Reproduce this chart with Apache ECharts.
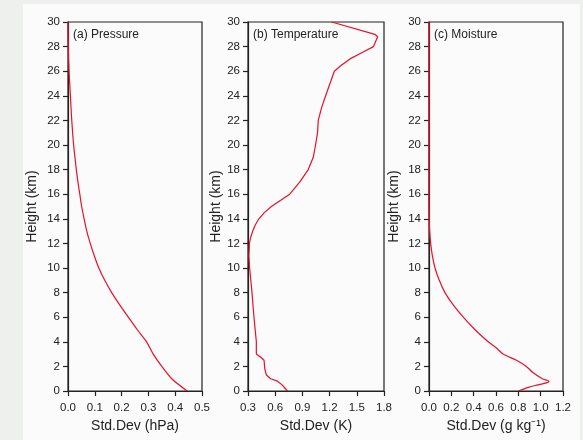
<!DOCTYPE html>
<html>
<head>
<meta charset="utf-8">
<script src="https://cdn.jsdelivr.net/npm/echarts@6/dist/echarts.min.js"></script>
<style>
  html, body { margin: 0; padding: 0; background: #eef0ee; }
  #main { width: 583px; height: 440px; }
</style>
</head>
<body>
<div id="main"></div>
<script>
// heights (km) and std.dev values
var pressH = [0, 1, 2, 3, 4, 5, 6, 7, 8, 9, 10, 11, 12, 13, 14, 15, 16, 17, 18, 19, 20, 22, 24, 26, 28, 30];
var pressV = [0.445, 0.387, 0.350, 0.318, 0.293, 0.258, 0.225, 0.193, 0.163, 0.137, 0.115, 0.098, 0.083, 0.070, 0.060, 0.051, 0.044, 0.037, 0.031, 0.026, 0.021, 0.014, 0.009, 0.004, 0.001, 0.0];

var tempH = [0, 0.5, 0.8, 1.0, 1.3, 1.8, 2.5, 2.7, 3.0, 4, 6, 8, 10, 11, 12, 12.5, 13, 13.5, 14, 14.5, 15, 15.5, 16, 17, 18, 19, 20, 21, 22, 23, 24, 25, 26, 26.5, 27, 27.5, 28, 28.8, 29, 30];
var tempV = [0.735, 0.676, 0.625, 0.55, 0.503, 0.485, 0.477, 0.448, 0.392, 0.392, 0.366, 0.344, 0.318, 0.31, 0.316, 0.33, 0.352, 0.38, 0.42, 0.48, 0.558, 0.66, 0.76, 0.872, 0.964, 1.02, 1.045, 1.067, 1.075, 1.11, 1.156, 1.204, 1.252, 1.333, 1.425, 1.554, 1.684, 1.73, 1.70, 1.223];

var moistH = [0, 0.3, 0.5, 0.7, 0.8, 1.0, 1.5, 2, 2.5, 3, 3.5, 4, 5, 6, 7, 8, 9, 10, 11, 12, 13, 14, 16, 20, 25, 30];
var moistV = [0.80, 0.89, 0.976, 1.065, 1.074, 1.015, 0.93, 0.872, 0.783, 0.664, 0.604, 0.53, 0.41, 0.307, 0.217, 0.143, 0.092, 0.054, 0.03, 0.015, 0.006, 0.002, 0.0, 0.0, 0.0, 0.0];

var panelTitles = ['(a) Pressure', '(b) Temperature', '(c) Moisture'];
var xNames = ['Std.Dev (hPa)', 'Std.Dev (K)', 'Std.Dev (g kg\u207B\u00B9)'];
var xMin = [0, 0.3, 0];
var xMax = [0.5, 1.8, 1.2];
var xStep = [0.1, 0.3, 0.2];

function pairs(xs, hs) {
    var out = [];
    for (var i = 0; i < xs.length; i++) out.push([xs[i], hs[i]]);
    return out;
}

var myChart = echarts.init(document.getElementById('main'));

var lefts = [68, 248, 429];
var widths = [134, 136, 134];
var yGaps = [29, 25, 28];
var txt = '#222';
var font = 'Liberation Sans, Arial, sans-serif';

var grids = [], xAxes = [], yAxes = [], titles = [];
for (var k = 0; k < 3; k++) {
    grids.push({ left: lefts[k], top: 22, width: widths[k], height: 369,
        show: true, borderColor: '#222', borderWidth: 1.2, backgroundColor: 'transparent' });
    xAxes.push({
        type: 'value', gridIndex: k, min: xMin[k], max: xMax[k], interval: xStep[k],
        name: xNames[k], nameLocation: 'middle', nameGap: 27,
        nameTextStyle: { color: txt, fontSize: 14, fontFamily: font },
        axisLine: { lineStyle: { color: '#222', width: 1.2 } },
        axisTick: { show: true, length: 5, lineStyle: { color: '#222', width: 1.2 } },
        axisLabel: { color: txt, fontSize: 11.5, fontFamily: font, margin: 11,
            formatter: function (v) { return v.toFixed(1); } },
        splitLine: { show: false }
    });
    yAxes.push({
        type: 'value', gridIndex: k, min: 0, max: 30, interval: 2,
        name: 'Height (km)', nameLocation: 'middle', nameGap: yGaps[k],
        nameTextStyle: { color: txt, fontSize: 14, fontFamily: font },
        axisLine: { lineStyle: { color: '#222', width: 1.2 } },
        axisTick: { show: true, length: 5, lineStyle: { color: '#222', width: 1.2 } },
        axisLabel: { color: txt, fontSize: 11.5, fontFamily: font, margin: 8 },
        splitLine: { show: false }
    });
    titles.push({ text: panelTitles[k], left: lefts[k] + 5, top: 29, padding: 0,
        textStyle: { color: txt, fontSize: 12, fontWeight: 'normal', fontFamily: font } });
}

var lineStyle = { color: '#e8102a', width: 1.2 };
var series = [
    { type: 'line', xAxisIndex: 0, yAxisIndex: 0, data: pairs(pressV, pressH), smooth: 0.3, showSymbol: false, lineStyle: lineStyle },
    { type: 'line', xAxisIndex: 1, yAxisIndex: 1, data: pairs(tempV, tempH), showSymbol: false, lineStyle: lineStyle },
    { type: 'line', xAxisIndex: 2, yAxisIndex: 2, data: pairs(moistV, moistH), smooth: 0.3, showSymbol: false, lineStyle: lineStyle }
];

var option = {
    backgroundColor: '#eef0ee',
    animation: false,
    graphic: [{ type: 'rect', z: -10, shape: { x: 23, y: 4, width: 557, height: 440 },
        style: { fill: '#fbfbfb' } }],
    title: titles,
    grid: grids,
    xAxis: xAxes,
    yAxis: yAxes,
    series: series
};
myChart.setOption(option);
</script>
</body>
</html>
